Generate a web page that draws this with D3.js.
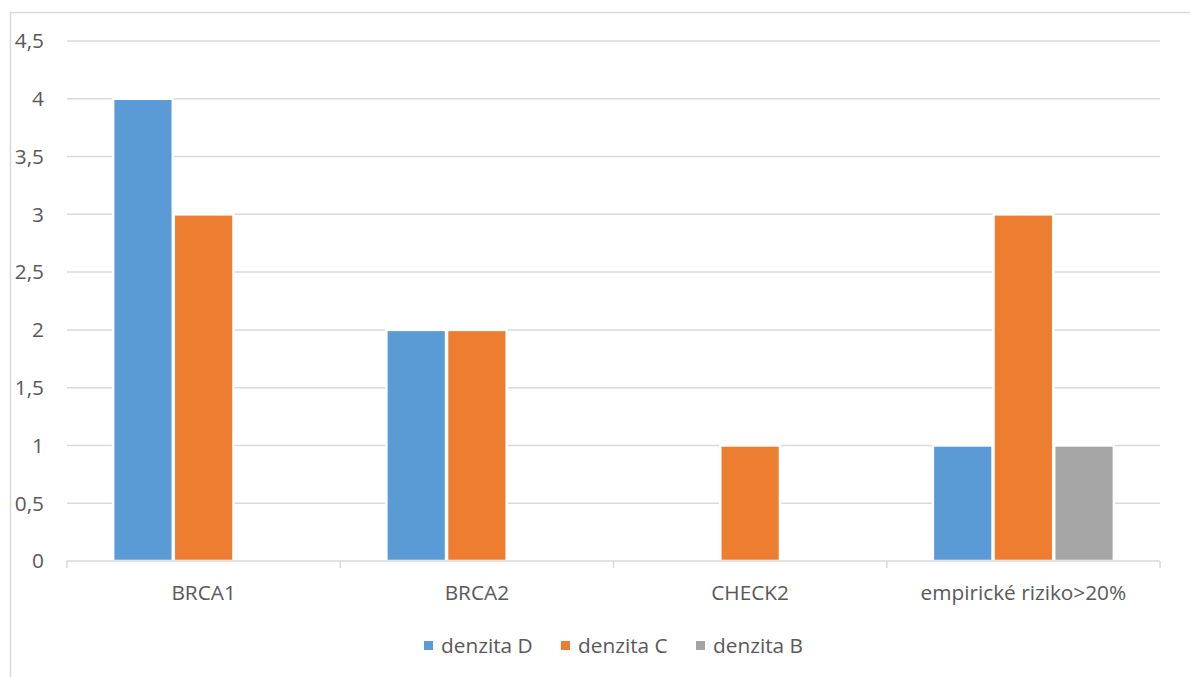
<!DOCTYPE html>
<html>
<head>
<meta charset="utf-8">
<script src="https://cdn.jsdelivr.net/npm/d3@7"></script>
<style>
  html, body { margin: 0; padding: 0; background: #fff; }
  svg text { font-family: "Open Sans", "Liberation Sans", sans-serif; fill: #595959; }
</style>
</head>
<body>
<svg id="chart" width="1190" height="677"></svg>
<script>
const categories = ["BRCA1", "BRCA2", "CHECK2", "empirické riziko>20%"];
const seriesNames = ["denzita D", "denzita C", "denzita B"];
const densityD = [4, 2, 0, 1];
const densityC = [3, 2, 1, 3];
const densityB = [0, 0, 0, 1];
const yTicks = [0, 0.5, 1, 1.5, 2, 2.5, 3, 3.5, 4, 4.5];
const colors = ["#5b9bd5", "#ed7d31", "#a5a5a5"];

const seriesValues = [densityD, densityC, densityB];

(function () {
const svg = d3.select("#chart");
const plotL = 67, plotR = 1160, plotT = 41, plotB = 561;
const fs = 20.8;

// chart border
svg.append("rect")
  .attr("x", 10.5).attr("y", 12.5)
  .attr("width", 1250).attr("height", 720)
  .attr("fill", "none").attr("stroke", "#d9d9d9").attr("stroke-width", 1.5);

const x0 = d3.scaleBand().domain(categories).range([plotL, plotR]).paddingInner(0).paddingOuter(0);
const groupW = x0.bandwidth() * 0.666;
const x1 = d3.scaleBand().domain(seriesNames)
  .range([(x0.bandwidth() - groupW) / 2, (x0.bandwidth() + groupW) / 2]).padding(0);
const y = d3.scaleLinear().domain([0, 4.5]).range([plotB, plotT]);

// gridlines
svg.append("g")
  .selectAll("line")
  .data(yTicks.filter(d => d > 0))
  .join("line")
  .attr("x1", plotL).attr("x2", plotR)
  .attr("y1", d => y(d)).attr("y2", d => y(d))
  .attr("stroke", "#d9d9d9").attr("stroke-width", 1.5);

// y tick labels
const fmt = d => String(d).replace(".", ",");
svg.append("g")
  .selectAll("text")
  .data(yTicks)
  .join("text")
  .attr("x", 44)
  .attr("y", d => y(d))
  .attr("dy", "0.35em")
  .attr("text-anchor", "end")
  .attr("font-size", fs)
  .text(fmt);

// bars
const data = [];
categories.forEach((c, i) => {
  seriesNames.forEach((s, j) => {
    data.push({ cat: c, series: s, value: seriesValues[j][i], color: colors[j] });
  });
});

svg.append("g")
  .selectAll("rect")
  .data(data.filter(d => d.value > 0))
  .join("rect")
  .attr("x", d => x0(d.cat) + x1(d.series) + 0.5)
  .attr("y", d => y(d.value))
  .attr("width", x1.bandwidth() - 1)
  .attr("height", d => y(0) - y(d.value))
  .attr("fill", d => d.color)
  .attr("stroke", "#fff").attr("stroke-width", 2.5);

// x axis
const axisG = svg.append("g").attr("transform", `translate(0,${plotB})`);
axisG.append("line")
  .attr("x1", plotL).attr("x2", plotR).attr("y1", 0).attr("y2", 0)
  .attr("stroke", "#d9d9d9").attr("stroke-width", 1.5);
const boundaries = categories.map(c => x0(c)).concat([plotR]);
axisG.selectAll("line.bt")
  .data(boundaries)
  .join("line")
  .attr("class", "bt")
  .attr("x1", d => d).attr("x2", d => d)
  .attr("y1", 0).attr("y2", 7)
  .attr("stroke", "#d9d9d9").attr("stroke-width", 1.5);
axisG.selectAll("text.cl")
  .data(categories)
  .join("text")
  .attr("class", "cl")
  .attr("x", d => x0(d) + x0.bandwidth() / 2)
  .attr("y", 39)
  .attr("text-anchor", "middle")
  .attr("font-size", fs)
  .text(d => d);

// legend
const legendX = [424, 561, 696];
const lg = svg.append("g");
seriesNames.forEach((s, j) => {
  lg.append("rect")
    .attr("x", legendX[j]).attr("y", 641)
    .attr("width", 9).attr("height", 9)
    .attr("fill", colors[j]);
  lg.append("text")
    .attr("x", legendX[j] + 17).attr("y", 645.5)
    .attr("dy", "0.35em")
    .attr("font-size", fs)
    .text(s);
});
})();
</script>
</body>
</html>
